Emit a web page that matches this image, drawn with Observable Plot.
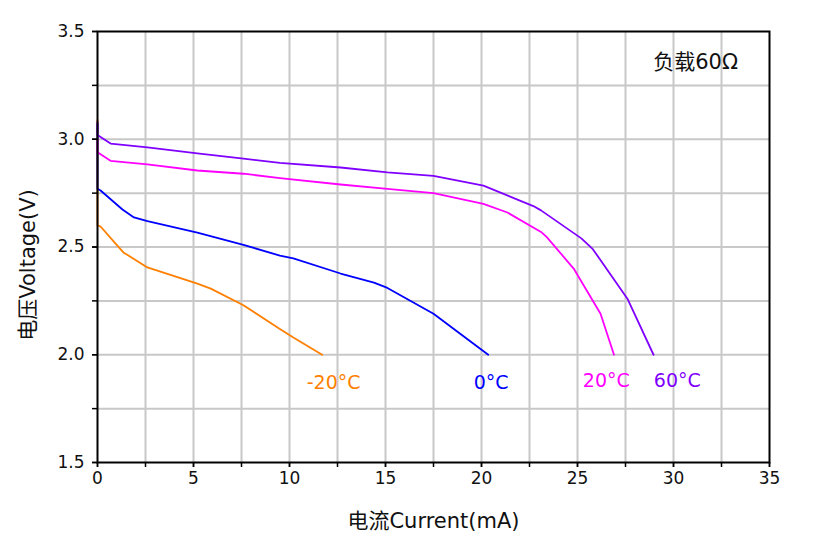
<!DOCTYPE html>
<html>
<head>
<meta charset="utf-8">
<script src="https://cdn.jsdelivr.net/npm/d3@7"></script>
<script src="https://cdn.jsdelivr.net/npm/@observablehq/plot@0.6"></script>
<style>
  html, body { margin: 0; padding: 0; background: #fff; }
  svg { font-family: "DejaVu Sans", "Noto Sans CJK SC", sans-serif; }
</style>
</head>
<body>
<div id="chart"></div>
<script>
// ---- data ----
const seriesNames = ["-20°C", "0°C", "20°C", "60°C"];
const seriesColors = ["#ff8000", "#0000ff", "#ff00ff", "#8000ff"];

const currentM20 = [0, 0, 0.16, 0.94, 1.35, 2.6, 5.2, 5.9, 7.6, 9.5, 10.2, 11.7];
const voltageM20 = [3.09, 2.60, 2.595, 2.516, 2.475, 2.405, 2.33, 2.307, 2.23, 2.12, 2.08, 2.0];

const current0 = [0, 0, 0.16, 1.3, 1.9, 2.6, 5.2, 7.6, 9.5, 10.2, 12.66, 14.4, 15.1, 17.5, 20.35];
const voltage0 = [3.07, 2.77, 2.762, 2.674, 2.637, 2.62, 2.567, 2.51, 2.46, 2.447, 2.377, 2.335, 2.31, 2.19, 2.0];

const current20 = [0, 0, 0.68, 2.6, 5.2, 7.6, 9.5, 12.66, 15.1, 17.5, 20.1, 21.35, 23.1, 23.4, 24.8, 26.2, 26.9];
const voltage20 = [3.0, 2.94, 2.90, 2.883, 2.855, 2.84, 2.82, 2.79, 2.77, 2.75, 2.70, 2.66, 2.57, 2.546, 2.40, 2.19, 2.0];

const current60 = [0, 0, 0.68, 2.6, 5.2, 7.6, 9.5, 12.66, 15.1, 17.5, 20.1, 22.7, 23.1, 25.2, 25.8, 27.6, 28.96];
const voltage60 = [3.08, 3.02, 2.98, 2.962, 2.934, 2.91, 2.89, 2.869, 2.846, 2.83, 2.785, 2.69, 2.67, 2.54, 2.49, 2.26, 2.0];

const labelCurrent = [12.3, 20.5, 26.5, 30.2];
const labelVoltage = [1.87, 1.87, 1.88, 1.88];

const loadNote = "负载60Ω";
const noteCurrent = 31.15;
const noteVoltage = 3.356;

const xTicks = [0, 5, 10, 15, 20, 25, 30, 35];
const yTicks = [1.5, 2.0, 2.5, 3.0, 3.5];
const xMinor = [2.5, 7.5, 12.5, 17.5, 22.5, 27.5, 32.5];
const yMinor = [1.75, 2.25, 2.75, 3.25];
const xTitle = "电流Current(mA)";
const yTitle = "电压Voltage(V)";

// ---- build table ----
const curves = [
  [currentM20, voltageM20],
  [current0, voltage0],
  [current20, voltage20],
  [current60, voltage60]
];
const rows = curves.flatMap(([xs, ys], i) =>
  xs.map((x, j) => ({ series: seriesNames[i], current: x, voltage: ys[j] })));
const labels = seriesNames.map((s, i) => ({ series: s, current: labelCurrent[i], voltage: labelVoltage[i] }));

const gridXs = [...xTicks, ...xMinor].filter(v => v > 0 && v < 35);
const gridYs = [...yTicks, ...yMinor].filter(v => v > 1.5 && v < 3.5);

const chart = Plot.plot({
  width: 828,
  height: 556,
  marginLeft: 97,
  marginRight: 59,
  marginTop: 31,
  marginBottom: 94,
  style: { fontFamily: '"DejaVu Sans", "Noto Sans CJK SC", sans-serif', background: "#fff" },
  x: { domain: [0, 35] },
  y: { domain: [1.5, 3.5] },
  color: { domain: seriesNames, range: seriesColors },
  marks: [
    Plot.gridX(gridXs, { stroke: "#c8c8c8", strokeOpacity: 1, strokeWidth: 2 }),
    Plot.gridY(gridYs, { stroke: "#c8c8c8", strokeOpacity: 1, strokeWidth: 2 }),
    Plot.line(rows, { x: "current", y: "voltage", z: "series", stroke: "series", strokeWidth: 1.8 }),
    Plot.frame({ stroke: "#000", strokeWidth: 2 }),
    Plot.axisX([...xTicks, ...xMinor], { tickSize: 5, tickFormat: () => "", label: null, stroke: "#000", strokeWidth: 1.5 }),
    Plot.axisX(xTicks, { tickSize: 5, tickPadding: 4, fontSize: 17, fill: "#111", tickFormat: d => String(d), label: null, stroke: "#000", strokeWidth: 1.5 }),
    Plot.axisY([...yTicks, ...yMinor], { tickSize: 5, tickFormat: () => "", label: null, stroke: "#000", strokeWidth: 1.5 }),
    Plot.axisY(yTicks, { tickSize: 5, tickPadding: 8, fontSize: 17, fill: "#111", tickFormat: d3.format(".1f"), label: null, stroke: "#000", strokeWidth: 1.5 }),
    Plot.text(labels, { x: "current", y: "voltage", text: "series", fill: "series", fontSize: 19 }),
    Plot.text([loadNote], { x: noteCurrent, y: noteVoltage, text: d => d, fill: "#111", fontSize: 21 }),
    Plot.text([xTitle], { frameAnchor: "bottom", dy: 65, text: d => d, fill: "#111", fontSize: 21 }),
    Plot.text([yTitle], { frameAnchor: "left", textAnchor: "middle", dx: -69, dy: 18, rotate: -90, text: d => d, fill: "#111", fontSize: 21 })
  ]
});
document.getElementById("chart").appendChild(chart);
</script>
</body>
</html>
